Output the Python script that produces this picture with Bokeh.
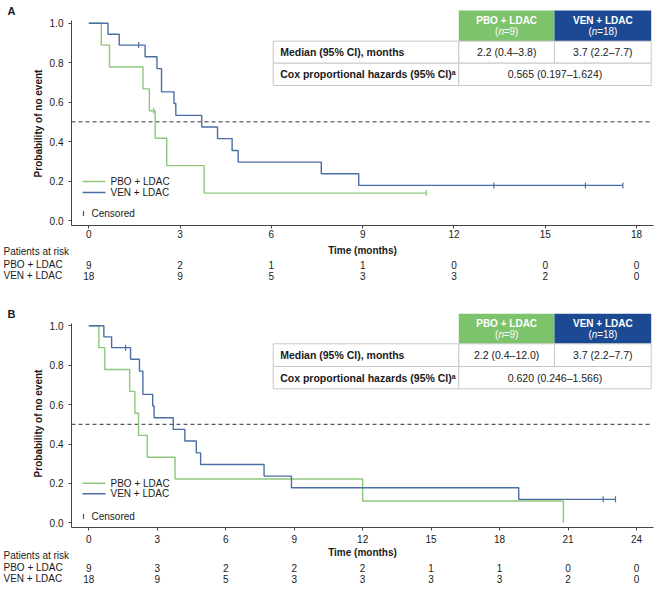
import numpy as np
from bokeh.plotting import figure
from bokeh.models import LinearAxis, FixedTicker, PrintfTickFormatter, Range1d, Label
from bokeh.layouts import column
from bokeh.core.properties import value
from bokeh.embed import file_html
from bokeh.resources import INLINE

# ---------------- data ----------------
groups = ["PBO + LDAC", "VEN + LDAC"]
group_n = ["9", "18"]
y_ticks = [0.0, 0.2, 0.4, 0.6, 0.8, 1.0]

# Panel A
a_pbo_t = [0, 0.41, 0.68, 1.78, 1.99, 2.18, 2.56, 3.79, 11.09]
a_pbo_s = [1.0, 0.889, 0.778, 0.667, 0.556, 0.417, 0.278, 0.139, 0.139]
a_pbo_cens = [2.13, 11.09]
a_ven_t = [0, 0.63, 1.00, 1.85, 2.24, 2.39, 2.80, 2.86, 3.71, 4.23, 4.71, 4.91, 7.64, 8.87, 17.55]
a_ven_s = [1.0, 0.944, 0.889, 0.830, 0.770, 0.652, 0.593, 0.533, 0.474, 0.415, 0.355, 0.296, 0.237, 0.178, 0.178]
a_ven_cens = [1.64, 13.31, 16.32, 17.55]
a_ticks = [0, 3, 6, 9, 12, 15, 18]
a_risk_pbo = [9, 2, 1, 1, 0, 0, 0]
a_risk_ven = [18, 9, 5, 3, 3, 2, 0]
a_median = ["2.2 (0.4–3.8)", "3.7 (2.2–7.7)"]
a_hr = "0.565 (0.197–1.624)"

# Panel B
b_pbo_t = [0, 0.44, 0.70, 1.79, 2.02, 2.18, 2.56, 3.78, 12.0, 20.8]
b_pbo_s = [1.0, 0.889, 0.778, 0.667, 0.556, 0.444, 0.333, 0.222, 0.111, 0.0]
b_pbo_cens = []
b_ven_t = [0, 0.66, 1.00, 1.83, 2.22, 2.37, 2.80, 2.86, 3.70, 4.21, 4.71, 4.90, 7.68, 8.88, 18.84, 23.08]
b_ven_s = [1.0, 0.944, 0.889, 0.830, 0.770, 0.652, 0.593, 0.533, 0.474, 0.415, 0.355, 0.296, 0.237, 0.178, 0.119, 0.119]
b_ven_cens = [1.61, 22.54, 23.08]
b_ticks = [0, 3, 6, 9, 12, 15, 18, 21, 24]
b_risk_pbo = [9, 3, 2, 2, 2, 1, 1, 0, 0]
b_risk_ven = [18, 9, 5, 3, 3, 3, 3, 2, 0]
b_median = ["2.2 (0.4–12.0)", "3.7 (2.2–7.7)"]
b_hr = "0.620 (0.246–1.566)"

# ---------------- style ----------------
W = 666
FONT = "Liberation Sans"
GREEN_LINE = "#8EC77C"
BLUE_LINE = "#4A6EA3"
GREEN_HEAD = "#7DC36B"
BLUE_HEAD = "#1B4A92"
CELL_LINE = "#C8C8C8"
AX = "#444444"
TXT = "#1A1A1A"


def surv_at(ts, ss, t):
    i = int(np.searchsorted(np.array(ts), t, side="right")) - 1
    return ss[i]


def build_panel(cfg):
    top, H = cfg["top"], cfg["H"]
    ppm, ppu, x0, y0 = cfg["ppm"], cfg["ppu"], cfg["x0"], cfg["y0"]

    def X(rx):
        return (rx - x0) / ppm

    def Y(ry):
        return (y0 - ry) / ppu

    p = figure(width=W, height=H, x_range=Range1d(X(0), X(W)),
               y_range=Range1d(Y(top + H), Y(top)),
               output_backend="svg", toolbar_location=None,
               x_axis_location=None, y_axis_location=None, min_border=0,
               outline_line_color=None, background_fill_color="white",
               border_fill_color="white")
    p.grid.visible = False

    xa = LinearAxis(fixed_location=Y(cfg["xaxis"]), bounds=(X(71), X(652.7)),
                    ticker=FixedTicker(ticks=cfg["ticks"]),
                    axis_line_color=AX, major_tick_line_color=AX,
                    major_tick_out=3, major_tick_in=0, minor_tick_line_color=None,
                    major_label_text_font=FONT, major_label_text_font_size="10px",
                    major_label_text_color=TXT, major_label_standoff=cfg["xstandoff"])
    p.add_layout(xa, "below")
    ya = LinearAxis(fixed_location=X(71), bounds=(Y(cfg["xaxis"]), Y(cfg["ytop"])),
                    ticker=FixedTicker(ticks=y_ticks),
                    formatter=PrintfTickFormatter(format="%.1f"),
                    axis_line_color=AX, major_tick_line_color=AX,
                    major_tick_out=3, major_tick_in=0, minor_tick_line_color=None,
                    major_label_text_font=FONT, major_label_text_font_size="10px",
                    major_label_text_color=TXT, major_label_standoff=5)
    p.add_layout(ya, "left")

    # median reference line
    p.line(x=[X(71), X(651.7)], y=[0.5, 0.5], line_dash="4 3", line_color="#333333", line_width=1)

    # KM curves
    curves = [(cfg["pbo_t"], cfg["pbo_s"], cfg["pbo_c"], GREEN_LINE),
              (cfg["ven_t"], cfg["ven_s"], cfg["ven_c"], BLUE_LINE)]
    for ts, ss, cs, col in curves:
        p.step(x=ts, y=ss, mode="after", line_color=col, line_width=1.4)
    for ts, ss, cs, col in curves:
        if cs:
            p.scatter(x=cs, y=[surv_at(ts, ss, c) for c in cs], marker="dash",
                      angle=np.pi / 2, size=6, line_color=col, line_width=1.2)

    # legend
    ly = cfg["leg_y"]
    p.segment(x0=[X(82), X(82)], y0=[Y(ly[0]), Y(ly[1])], x1=[X(105), X(105)],
              y1=[Y(ly[0]), Y(ly[1])], line_color=[GREEN_LINE, BLUE_LINE], line_width=1.4)
    p.scatter(x=[X(83)], y=[Y(ly[2])], marker="dash", angle=np.pi / 2, size=5,
              line_color="#555555", line_width=1.2)
    for txt, yy, lx in zip(groups + ["Censored"], ly, [110, 110, 91]):
        p.add_layout(Label(x=X(lx), y=Y(yy), text=txt, text_font=FONT, text_font_size="10px",
                           text_color=TXT, text_baseline="middle", text_align="left"))

    # panel letter
    p.add_layout(Label(x=X(7), y=Y(cfg["letter_y"]), text=cfg["letter"], text_font=FONT,
                       text_font_size="11px", text_font_style="bold", text_color=TXT,
                       text_baseline="middle", text_align="left"))
    # axis titles
    p.add_layout(Label(x=X(38), y=Y(cfg["ytitle_y"]), text="Probability of no event",
                       angle=np.pi / 2, text_font=FONT, text_font_size="10px",
                       text_font_style="bold", text_color=TXT,
                       text_baseline="middle", text_align="center"))
    p.add_layout(Label(x=X(362), y=Y(cfg["time_y"]), text="Time (months)", text_font=FONT,
                       text_font_size="10px", text_font_style="bold", text_color=TXT,
                       text_baseline="middle", text_align="center"))

    # at-risk table
    p.add_layout(Label(x=X(3), y=Y(cfg["par_y"]), text="Patients at risk", text_font=FONT,
                       text_font_size="10px", text_color=TXT, text_baseline="middle"))
    for g, yy, risk in zip(groups, cfg["rows_y"], cfg["risk"]):
        p.add_layout(Label(x=X(3), y=Y(yy), text=g, text_font=FONT,
                           text_font_size="10px", text_color=TXT, text_baseline="middle"))
        p.text(x=cfg["ticks"], y=[Y(yy)] * len(cfg["ticks"]), text=[str(v) for v in risk],
               text_font=value(FONT), text_font_size="10px", text_color=TXT,
               text_align="center", text_baseline="middle")

    # summary table
    tl, c1, c2, tr = 272.7, 458.3, 554.0, 650.7
    tt, hb, r1, r2 = cfg["table"]
    p.quad(left=[X(c1), X(c2)], right=[X(c2), X(tr)], top=[Y(tt)] * 2, bottom=[Y(hb)] * 2,
           fill_color=[GREEN_HEAD, BLUE_HEAD], line_color=None)
    p.quad(left=[X(tl), X(c1), X(c2), X(tl), X(c1)],
           right=[X(c1), X(c2), X(tr), X(c1), X(tr)],
           top=[Y(hb), Y(hb), Y(hb), Y(r1), Y(r1)],
           bottom=[Y(r1), Y(r1), Y(r1), Y(r2), Y(r2)],
           fill_color="white", line_color=CELL_LINE, line_width=1)
    hm = (tt + hb) / 2
    for (a, b), g, n in zip([(c1, c2), (c2, tr)], groups, group_n):
        cx = (a + b) / 2
        p.add_layout(Label(x=X(cx), y=Y(hm - 5.5), text=g, text_font=FONT, text_font_size="10px",
                           text_font_style="bold", text_color="white",
                           text_baseline="middle", text_align="center"))
        tail = "=" + n + ")"
        wtot = 3.33 + 5.0 + 5.84 + 5.56 * len(n) + 3.33
        s0 = cx - wtot / 2
        yy = Y(hm + 6)
        p.add_layout(Label(x=X(s0), y=yy, text="(", text_font=FONT, text_font_size="10px",
                           text_color="white", text_baseline="middle", text_align="left"))
        p.add_layout(Label(x=X(s0 + 3.33), y=yy, text="n", text_font=FONT, text_font_size="10px",
                           text_font_style="italic", text_color="white",
                           text_baseline="middle", text_align="left"))
        p.add_layout(Label(x=X(s0 + 8.6), y=yy, text=tail, text_font=FONT, text_font_size="10px",
                           text_color="white", text_baseline="middle", text_align="left"))
    m1, m2 = (hb + r1) / 2, (r1 + r2) / 2
    p.add_layout(Label(x=X(tl + 7), y=Y(m1), text="Median (95% CI), months", text_font=FONT,
                       text_font_size="10.5px", text_font_style="bold", text_color=TXT,
                       text_baseline="middle"))
    p.add_layout(Label(x=X(tl + 7), y=Y(m2), text="Cox proportional hazards (95% CI)ᵃ",
                       text_font=FONT, text_font_size="10.5px", text_font_style="bold",
                       text_color=TXT, text_baseline="middle"))
    for (a, b), txt in zip([(c1, c2), (c2, tr)], cfg["median"]):
        p.add_layout(Label(x=X((a + b) / 2), y=Y(m1), text=txt, text_font=FONT,
                           text_font_size="10.5px", text_color=TXT,
                           text_baseline="middle", text_align="center"))
    p.add_layout(Label(x=X((c1 + tr) / 2), y=Y(m2), text=cfg["hr"], text_font=FONT,
                       text_font_size="10.5px", text_color=TXT,
                       text_baseline="middle", text_align="center"))
    return p


cfgA = dict(top=0, H=300, ppm=30.43, ppu=197.3, x0=88.3, y0=220.0, xaxis=225.0, ytop=20.0,
            ticks=a_ticks, xstandoff=1, table=(10.0, 40.7, 62.7, 85.0), letter="A", letter_y=10,
            ytitle_y=123, leg_y=(181, 192, 213), time_y=250, par_y=251, rows_y=(264, 275),
            risk=(a_risk_pbo, a_risk_ven), median=a_median, hr=a_hr,
            pbo_t=a_pbo_t, pbo_s=a_pbo_s, pbo_c=a_pbo_cens,
            ven_t=a_ven_t, ven_s=a_ven_s, ven_c=a_ven_cens)
cfgB = dict(top=300, H=299, ppm=22.82, ppu=197.0, x0=88.3, y0=522.3, xaxis=526.7, ytop=323.0,
            ticks=b_ticks, xstandoff=5, table=(313.3, 343.3, 366.0, 388.3), letter="B", letter_y=313,
            ytitle_y=423, leg_y=(482.7, 493.3, 516), time_y=552, par_y=555, rows_y=(567, 578),
            risk=(b_risk_pbo, b_risk_ven), median=b_median, hr=b_hr,
            pbo_t=b_pbo_t, pbo_s=b_pbo_s, pbo_c=b_pbo_cens,
            ven_t=b_ven_t, ven_s=b_ven_s, ven_c=b_ven_cens)

pA = build_panel(cfgA)
pB = build_panel(cfgB)
layout = column(pA, pB, spacing=0)
open("out.html", "w").write(file_html(layout, INLINE))
